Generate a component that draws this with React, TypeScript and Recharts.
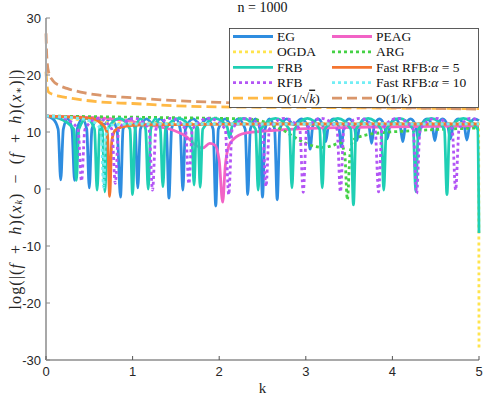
import React from 'react';
import { LineChart, Line, XAxis, YAxis, Legend } from 'recharts';

const K_TICKS = [0, 1, 2, 3, 4, 5];
const Y_TICKS = [-30, -20, -10, 0, 10, 20, 30];

// [k, log-gap] pairs
const egPoints = [
  [0, 12.8], [0.08, 12.3], [0.14, 10.5], [0.17, 1.6], [0.2, 10.5], [0.25, 12.3], [0.3, 10.5], [0.33, 1.5],
  [0.36, 10.5], [0.42, 12.3], [0.47, 10.5], [0.5, 0.2], [0.53, 10.5], [0.6, 12.3], [0.67, 11.3], [0.74, 12.3],
  [0.82, 10.5], [0.86, -1.4], [0.89, 10.5], [0.97, 12.3], [1.03, 10.5], [1.06, 0.2], [1.09, 10.5], [1.16, 12.3],
  [1.24, 11.3], [1.32, 12.3], [1.39, 10.5], [1.42, -1.6], [1.45, 10.5], [1.5, 12.3], [1.55, 10.5], [1.58, -0.2],
  [1.61, 10.5], [1.7, 12.3], [1.78, 11.3], [1.86, 12.3], [1.93, 10.5], [1.96, -3], [1.99, 10.5], [2.07, 12.3],
  [2.14, 11.3], [2.22, 12.3], [2.3, 10.5], [2.33, -1], [2.36, 10.5], [2.42, 12.3], [2.47, 10.5], [2.5, -1.4],
  [2.53, 10.5], [2.58, 12.3], [2.64, 10.5], [2.67, -1.9], [2.7, 10.5], [2.78, 12.3], [2.86, 11.3], [2.95, 12.3],
  [3.02, 11], [3.05, 7], [3.08, 11], [3.14, 12.3], [3.2, 11], [3.23, 8.3], [3.26, 11], [3.32, 12.3],
  [3.38, 11], [3.41, 7.4], [3.44, 11], [3.5, 12.3], [3.56, 11], [3.59, 8.5], [3.62, 11], [3.68, 12.3],
  [3.73, 11], [3.76, 8], [3.79, 11], [3.85, 12.3], [3.91, 11], [3.94, 8.8], [3.97, 11], [4.03, 12.3],
  [4.09, 11], [4.12, 8.3], [4.15, 11], [4.21, 12.3], [4.27, 11], [4.3, 8.8], [4.33, 11], [4.4, 12.3],
  [4.46, 11], [4.49, 8.5], [4.52, 11], [4.58, 12.3], [4.64, 11], [4.67, 8.8], [4.7, 11], [4.76, 12.3],
  [4.83, 11], [4.86, 8.6], [4.89, 11], [4.95, 12.3], [5, 12],
];

const peagPoints = [
  [0, 12.8], [0.4, 12.6], [0.75, 12.3], [1.0, 11.8], [1.2, 11.2], [1.47, 10.3], [1.62, 9.2], [1.72, 7.8],
  [1.81, 7.2], [1.89, 8], [1.95, 7.7], [2.0, 5], [2.04, -2.3], [2.07, 4], [2.11, 7.5], [2.17, 8.8],
  [2.3, 9.8], [2.55, 10.2], [3, 10.6], [4, 10.9], [5, 11.1],
];

const ogdaPoints = [
  [0, 12.8], [0.3, 12.3], [0.8, 11.6], [2, 11.5], [4.995, 11.5], [5, -28],
];

const argPoints = [
  [0, 12.8], [0.5, 12.7], [1, 12.6], [1.5, 12.5], [2, 12.4], [2.4, 12.2], [2.6, 11.3], [2.75, 10.2],
  [2.9, 8.8], [3.0, 8], [3.1, 7.5], [3.2, 7.3], [3.3, 7.6], [3.4, 8.1], [3.45, 6], [3.48, -1.9],
  [3.51, 6], [3.55, 8.6], [3.7, 9.5], [3.9, 9.9], [4.2, 10.2], [4.6, 10.5], [5, 10.7],
];

const frbPoints = [
  [0, 12.8], [0.15, 12.4], [0.32, 10.5], [0.35, 1.5], [0.38, 10.5], [0.47, 12.4], [0.56, 10.5], [0.59, -0.2],
  [0.62, 10.5], [0.635, 11.2], [0.65, 10.5], [0.68, -0.5], [0.71, 10.5], [0.85, 12.4], [0.97, 10.5], [1.0, -1],
  [1.03, 10.5], [1.09, 12.3], [1.15, 10.5], [1.18, 0], [1.21, 10.5], [1.265, 12.3], [1.32, 10.5], [1.35, 0.4],
  [1.38, 10.5], [1.53, 12.4], [1.68, 10.5], [1.71, 0.7], [1.735, 10.5], [1.745, 11], [1.755, 10.5], [1.78, 0.3],
  [1.81, 10.5], [1.95, 12.4], [2.09, 11], [2.12, 9], [2.15, 11], [2.28, 12.4], [2.42, 10.5], [2.45, -0.2],
  [2.48, 10.5], [2.65, 12.4], [2.81, 10.5], [2.84, 0.2], [2.87, 10.5], [3.02, 12.4], [3.16, 10.5], [3.19, 0.2],
  [3.22, 10.5], [3.37, 12.4], [3.52, 10.5], [3.55, -2.8], [3.58, 10.5], [3.72, 12.4], [3.87, 10.5], [3.9, -0.2],
  [3.93, 10.5], [4.08, 12.4], [4.24, 10.5], [4.27, -0.5], [4.3, 10.5], [4.45, 12.4], [4.6, 10.5], [4.63, -1],
  [4.66, 10.5], [4.82, 12.4], [4.985, 10.5], [5, -7.7],
];

const fast5Points = [
  [0, 12.8], [0.3, 12.6], [0.55, 12.3], [0.63, 11.6], [0.68, 10.8], [0.71, 9.5], [0.735, -1.3], [0.76, 8.5],
  [0.8, 10.3], [0.88, 10.9], [1.05, 11.2], [1.5, 11.3], [2.5, 11.4], [5, 11.4],
];

const rfbPoints = [
  [0, 12.8], [0.2, 12.4], [0.37, 10.5], [0.41, 1.4], [0.45, 10.5], [0.6, 12.4], [0.76, 10.5], [0.8, 1],
  [0.84, 10.5], [1.02, 12.4], [1.19, 10.5], [1.23, -0.2], [1.27, 10.5], [1.44, 12.4], [1.61, 10.5], [1.65, 0.9],
  [1.69, 10.5], [1.88, 12.4], [2.07, 10.5], [2.11, -1], [2.15, 10.5], [2.32, 12.4], [2.5, 10.5], [2.54, 0.4],
  [2.58, 10.5], [2.75, 12.4], [2.93, 10.5], [2.97, -0.6], [3.01, 10.5], [3.18, 12.4], [3.36, 10.5], [3.4, -0.5],
  [3.44, 10.5], [3.62, 12.4], [3.8, 10.5], [3.84, -0.5], [3.88, 10.5], [4.06, 12.4], [4.24, 10.5], [4.28, -0.8],
  [4.32, 10.5], [4.5, 12.4], [4.69, 10.5], [4.73, -0.2], [4.77, 10.5], [4.9, 12.4], [5, 12],
];

const fast10Points = [
  [0, 12.8], [0.3, 12.5], [0.5, 12], [0.6, 11.2], [0.64, 9.5], [0.665, 0.3], [0.69, 9.5], [0.75, 11.2],
  [1, 11.4], [5, 11.4],
];

const sqrtBoundPoints = [
  [0, 20.6], [0.01, 18.5], [0.03, 17], [0.08, 16.6], [0.15, 16.3], [0.3, 15.9], [0.6, 15.3], [1, 15],
  [1.5, 14.6], [2, 14.4], [3, 14.3], [4, 14.2], [5, 14.1],
];

const linBoundPoints = [
  [0, 27.3], [0.01, 23], [0.03, 20.5], [0.08, 19], [0.15, 18.2], [0.25, 17.6], [0.4, 17], [0.6, 16.5],
  [1, 16], [1.5, 15.5], [2, 15.2], [2.5, 14.9], [3, 14.6], [4, 14.3], [5, 14.0],
];

const toRows = (pts: number[][]) => pts.map(([k, v]) => ({ k, v }));

const DOT = '3 3';
const DASH = '10 5';

// plot order == legend order (two columns, row by row)
const SERIES = [
  { id: 'eg', label: 'EG', pts: egPoints, color: '#2e8de0', dash: undefined },
  { id: 'peag', label: 'PEAG', pts: peagPoints, color: '#f263c6', dash: undefined },
  { id: 'ogda', label: 'OGDA', pts: ogdaPoints, color: '#ffe44d', dash: DOT },
  { id: 'arg', label: 'ARG', pts: argPoints, color: '#45d145', dash: DOT },
  { id: 'frb', label: 'FRB', pts: frbPoints, color: '#1fcfb4', dash: undefined },
  { id: 'fast5', label: 'fast5', pts: fast5Points, color: '#f47530', dash: undefined },
  { id: 'rfb', label: 'RFB', pts: rfbPoints, color: '#b355f5', dash: DOT },
  { id: 'fast10', label: 'fast10', pts: fast10Points, color: '#72eef5', dash: DOT },
  { id: 'sqrt', label: 'sqrt', pts: sqrtBoundPoints, color: '#ffb945', dash: DASH },
  { id: 'lin', label: 'lin', pts: linBoundPoints, color: '#d9966b', dash: DASH },
];

const SERIF = '"Liberation Serif", "DejaVu Serif", serif';
const SANS = '"Liberation Sans", Arial, sans-serif';

const legendLabel = (id: string, label: string) => {
  if (id === 'fast5' || id === 'fast10') {
    return (
      <>
        Fast RFB:<tspan fontStyle="italic">α</tspan> = {id === 'fast5' ? '5' : '10'}
      </>
    );
  }
  if (id === 'sqrt') {
    return (
      <>
        O(1/√<tspan fontStyle="italic" textDecoration="overline">k</tspan>)
      </>
    );
  }
  if (id === 'lin') return 'O(1/k)';
  return label;
};

const LegendBox = () => (
  <svg width={250} height={80}>
    <rect x={0.5} y={0.5} width={249} height={79} fill="#fff" stroke="#333" strokeWidth={0.8} />
    {SERIES.map((s, i) => {
      const row = Math.floor(i / 2);
      const col = i % 2;
      const y = 8.5 + row * 15.4;
      const x0 = col === 0 ? 4 : 103;
      return (
        <g key={s.id}>
          <line x1={x0} x2={x0 + 40} y1={y} y2={y} stroke={s.color} strokeWidth={2.8} strokeDasharray={s.dash} />
          <text x={x0 + 44} y={y + 4.5} fontFamily={SERIF} fontSize={13.5} fill="#111">
            {legendLabel(s.id, s.label)}
          </text>
        </g>
      );
    })}
  </svg>
);

const BottomTick = (props: any) => {
  const { x, y, payload } = props;
  return (
    <g>
      <line x1={x} x2={x} y1={y} y2={y - 4} stroke="#555" />
      <text x={x} y={y + 16} textAnchor="middle" fontFamily={SANS} fontSize={13} fill="#262626">
        {payload.value}
      </text>
    </g>
  );
};

const TopTick = (props: any) => {
  const { x, y } = props;
  return <line x1={x} x2={x} y1={y} y2={y + 4} stroke="#888" />;
};

const LeftTick = (props: any) => {
  const { x, y, payload } = props;
  return (
    <g>
      <line x1={x} x2={x + 4} y1={y} y2={y} stroke="#888" />
      <text x={x - 5} y={y + 4.5} textAnchor="end" fontFamily={SANS} fontSize={13} fill="#262626">
        {payload.value}
      </text>
    </g>
  );
};

const RightTick = (props: any) => {
  const { x, y } = props;
  return <line x1={x} x2={x - 4} y1={y} y2={y} stroke="#888" />;
};

const YLabel = (props: any) => {
  const vb = props.viewBox || { x: 0, y: 18, height: 342 };
  const cx = 15;
  const cy = vb.y + vb.height / 2;
  const sp = '\u2002';
  return (
    <text
      x={cx}
      y={cy}
      transform={`rotate(-90 ${cx} ${cy})`}
      textAnchor="middle"
      dominantBaseline="central"
      fontFamily={SERIF}
      fontSize={16}
      letterSpacing={1.1}
      fill="#262626"
    >
      log(|(<tspan fontStyle="italic">f</tspan>{sp}+{sp}<tspan fontStyle="italic">h</tspan>)(<tspan fontStyle="italic">x</tspan>
      <tspan fontSize={10} dy={3} fontStyle="italic">k</tspan>
      <tspan dy={-3}>){sp}−{sp}(</tspan><tspan fontStyle="italic">f</tspan>{sp}+{sp}<tspan fontStyle="italic">h</tspan>)(<tspan fontStyle="italic">x</tspan>
      <tspan fontSize={10} dy={3}>∗</tspan>
      <tspan dy={-3}>)|)</tspan>
    </text>
  );
};

export default function App() {
  return (
    <div style={{ position: 'absolute', left: 0, top: 0, width: 484, height: 397, background: '#fff' }}>
      <LineChart width={484} height={397} margin={{ top: 18, right: 5, bottom: 0, left: 0 }}>
        <XAxis
          dataKey="k"
          type="number"
          domain={[0, 5]}
          ticks={K_TICKS}
          height={37}
          tickSize={0}
          tickMargin={0}
          tickLine={false}
          axisLine={{ stroke: '#555', strokeWidth: 1.2 }}
          tick={<BottomTick />}
          label={{ value: 'k', position: 'insideBottom', offset: 4, fontFamily: SERIF, fontSize: 15, fill: '#262626' }}
        />
        <XAxis
          xAxisId="top"
          orientation="top"
          type="number"
          domain={[0, 5]}
          ticks={K_TICKS}
          height={0}
          tickSize={0}
          tickMargin={0}
          tickLine={false}
          axisLine={{ stroke: '#999' }}
          tick={<TopTick />}
        />
        <YAxis
          type="number"
          domain={[-30, 30]}
          ticks={Y_TICKS}
          width={46}
          tickSize={0}
          tickMargin={0}
          tickLine={false}
          axisLine={{ stroke: '#a8a8a8', strokeWidth: 2 }}
          tick={<LeftTick />}
          label={<YLabel />}
        />
        <YAxis
          yAxisId="right"
          orientation="right"
          type="number"
          domain={[-30, 30]}
          ticks={Y_TICKS}
          width={0}
          tickSize={0}
          tickMargin={0}
          tickLine={false}
          axisLine={{ stroke: '#a8a8a8', strokeWidth: 1.5 }}
          tick={<RightTick />}
        />
        {SERIES.map((s) => (
          <Line
            key={s.id}
            name={s.label}
            data={toRows(s.pts)}
            dataKey="v"
            type="monotone"
            stroke={s.color}
            strokeWidth={2.8}
            strokeDasharray={s.dash}
            dot={false}
            activeDot={false}
            isAnimationActive={false}
          />
        ))}
        <Legend
          layout="vertical"
          align="center"
          verticalAlign="middle"
          content={<LegendBox />}
          wrapperStyle={{ position: 'absolute', left: 229, top: 28, width: 250, height: 80 }}
        />
      </LineChart>
      <div
        style={{
          position: 'absolute',
          left: 46,
          width: 433,
          top: 0,
          textAlign: 'center',
          fontFamily: SERIF,
          fontSize: 14,
          color: '#111',
          lineHeight: '15px',
        }}
      >
        n = 1000
      </div>
    </div>
  );
}
